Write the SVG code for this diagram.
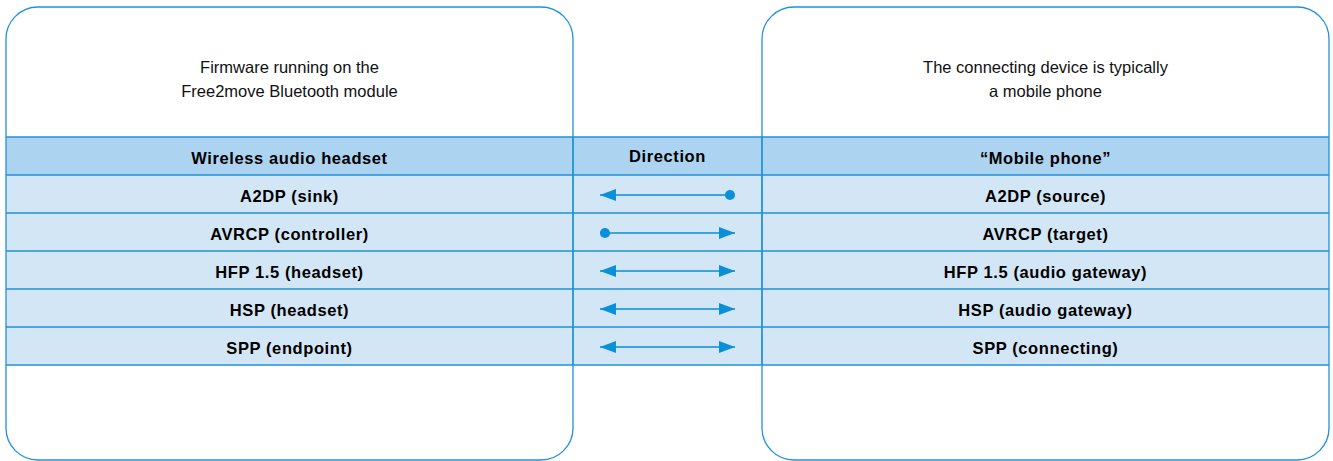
<svg xmlns="http://www.w3.org/2000/svg" width="1333" height="461" viewBox="0 0 1333 461">
<style>
.bg{fill:#ffffff}
.hdr{fill:#acd3f0}
.row{fill:#d3e6f6}
.grid{stroke:#1f92da;stroke-width:1.3;fill:none}
.box{stroke:#1f92da;stroke-width:1.3;fill:none}
.t{font-family:"Liberation Sans",Arial,sans-serif;font-size:16.5px;fill:#111;text-anchor:middle}
.b{font-family:"Liberation Sans",Arial,sans-serif;font-size:16.5px;font-weight:bold;letter-spacing:0.6px;fill:#000;text-anchor:middle}
.arr{stroke:#0a8fd9;stroke-width:1.5;fill:none}
.head{fill:#0a8fd9}
</style>
<defs>
<marker id="ah" viewBox="0 0 16 12" refX="16" refY="6" markerWidth="16" markerHeight="12" markerUnits="userSpaceOnUse" orient="auto-start-reverse">
<path d="M0,0 L16,6 L0,12 Z" class="head"/>
</marker>
<marker id="dot" viewBox="0 0 12 12" refX="6" refY="6" markerWidth="11" markerHeight="11" markerUnits="userSpaceOnUse">
<circle cx="6" cy="6" r="5.5" class="head"/>
</marker>
</defs>
<rect x="0" y="0" width="1333" height="461" class="bg"/>
<g id="left-panel">
<rect x="6" y="7" width="567" height="453" rx="32" ry="32" class="bg"/>
</g>
<g id="right-panel">
<rect x="762" y="7" width="567" height="453" rx="32" ry="32" class="bg"/>
</g>
<g id="table-fill">
<rect x="6" y="137" width="1323" height="38" class="hdr"/>
<rect x="6" y="175" width="1323" height="190" class="row"/>
</g>
<g id="grid">
<path class="grid" d="M6,137H1329M6,175H1329M6,213H1329M6,251H1329M6,289H1329M6,327H1329M6,365H1329M573,137V365M762,137V365"/>
</g>
<g id="panel-outlines">
<rect x="6" y="7" width="567" height="453" rx="32" ry="32" class="box"/>
<rect x="762" y="7" width="567" height="453" rx="32" ry="32" class="box"/>
</g>
<g id="left-title">
<text class="t" x="289.5" y="73">Firmware running on the</text>
<text class="t" x="289.5" y="97">Free2move Bluetooth module</text>
</g>
<g id="right-title">
<text class="t" x="1045.5" y="73">The connecting device is typically</text>
<text class="t" x="1045.5" y="97">a mobile phone</text>
</g>
<g id="header-row">
<text class="b" x="289.5" y="164">Wireless audio headset</text>
<text class="b" x="667.5" y="162">Direction</text>
<text class="b" x="1045.5" y="164">“Mobile phone”</text>
</g>
<g id="row-a2dp">
<text class="b" x="289.5" y="202">A2DP (sink)</text>
<text class="b" x="1045.5" y="202">A2DP (source)</text>
</g>
<g id="row-avrcp">
<text class="b" x="289.5" y="240">AVRCP (controller)</text>
<text class="b" x="1045.5" y="240">AVRCP (target)</text>
</g>
<g id="row-hfp">
<text class="b" x="289.5" y="278">HFP 1.5 (headset)</text>
<text class="b" x="1045.5" y="278">HFP 1.5 (audio gateway)</text>
</g>
<g id="row-hsp">
<text class="b" x="289.5" y="316">HSP (headset)</text>
<text class="b" x="1045.5" y="316">HSP (audio gateway)</text>
</g>
<g id="row-spp">
<text class="b" x="289.5" y="354">SPP (endpoint)</text>
<text class="b" x="1045.5" y="354">SPP (connecting)</text>
</g>
<g id="connectors">
<line class="arr" x1="730" y1="195" x2="600" y2="195" marker-start="url(#dot)" marker-end="url(#ah)"/>
<line class="arr" x1="605" y1="233" x2="735" y2="233" marker-start="url(#dot)" marker-end="url(#ah)"/>
<line class="arr" x1="600" y1="271" x2="735" y2="271" marker-start="url(#ah)" marker-end="url(#ah)"/>
<line class="arr" x1="600" y1="309" x2="735" y2="309" marker-start="url(#ah)" marker-end="url(#ah)"/>
<line class="arr" x1="600" y1="347" x2="735" y2="347" marker-start="url(#ah)" marker-end="url(#ah)"/>
</g>
</svg>
